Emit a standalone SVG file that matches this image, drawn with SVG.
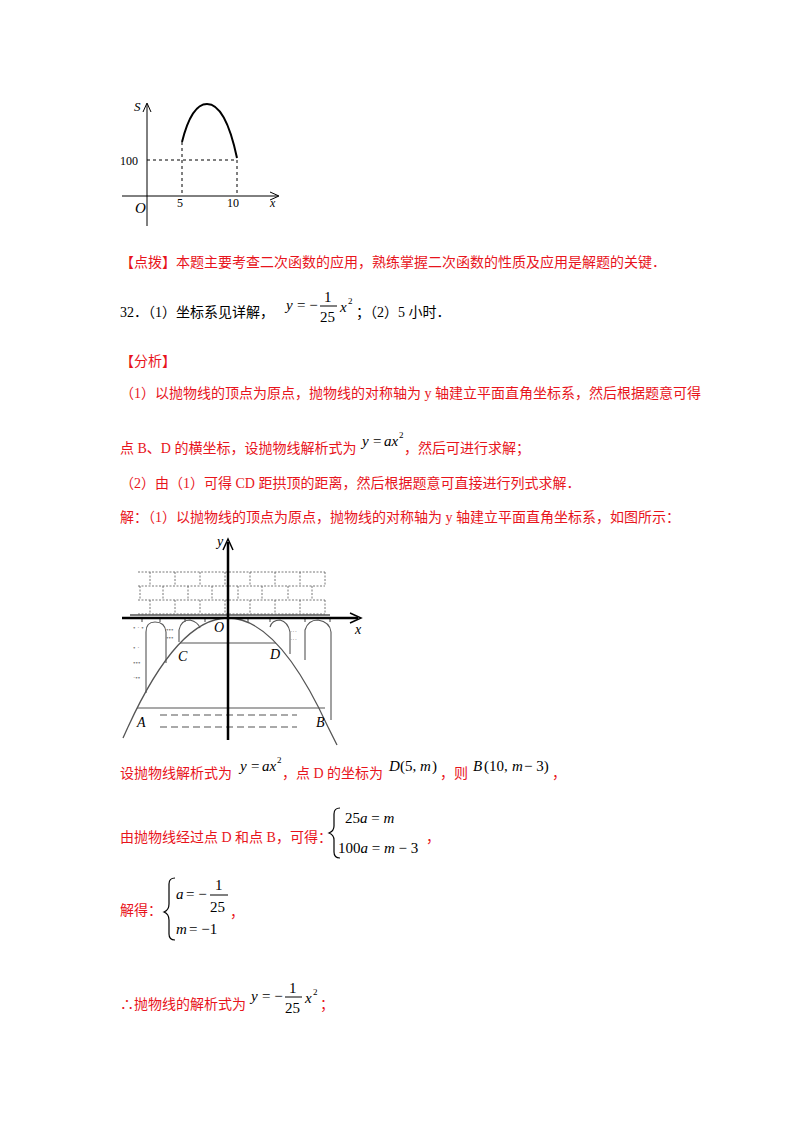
<svg xmlns="http://www.w3.org/2000/svg" width="800" height="1132" viewBox="0 0 800 1132">
<style>
.t{font-family:"Liberation Serif","Noto Sans CJK SC",serif;font-size:14px;fill:#000}
.r{fill:#e8141c}
.m{font-family:"Liberation Serif",serif;font-style:italic;font-size:15px}
.s{font-family:"Liberation Serif",serif;font-size:12px}
.f{font-family:"Liberation Serif",serif;font-size:15px}
.sup{font-family:"Liberation Serif",serif;font-size:9px}
.ax{stroke:#000;fill:none}
.d{stroke:#000;stroke-dasharray:3 3;fill:none}
.br{stroke:#555;stroke-dasharray:2 1.5;fill:none;stroke-width:0.8}
</style>
<rect width="800" height="1132" fill="#fff"/>
<g id="graph1">
<line class="ax" x1="147" y1="226" x2="147" y2="104"/>
<path d="M143,112 L147,103 L151,112" class="ax"/>
<line class="ax" x1="122" y1="196" x2="278" y2="196"/>
<path d="M270,192 L279,196 L270,200" class="ax"/>
<path class="d" d="M147,160 H237 M182,142 V196 M237,160 V196"/>
<path d="M182,142 C190,110 200,104 207,104 C220,104 230,125 237,158" stroke="#000" stroke-width="2" fill="none"/>
<text class="m" x="134" y="111" style="font-size:13px">S</text>
<text class="s" x="120" y="165">100</text>
<text class="m" x="135" y="213">O</text>
<text class="s" x="177" y="207">5</text>
<text class="s" x="227" y="207">10</text>
<text class="m" x="270" y="207" style="font-size:12px">x</text>
</g>
<g id="text">
<text class="t r" x="120" y="267">【点拨】本题主要考查二次函数的应用，熟练掌握二次函数的性质及应用是解题的关键．</text>
<text class="t" x="120" y="317">32．（1）坐标系见详解，</text>
<text class="m" x="286" y="310">y</text><text class="f" x="297" y="310">= −</text>
<text class="f" x="324" y="302">1</text><line x1="320" y1="306" x2="337" y2="306" stroke="#000"/>
<text class="f" x="320" y="322">25</text><text class="m" x="340" y="312">x</text><text class="sup" x="348" y="304">2</text>
<text class="t" x="356" y="317">；（2）5 小时．</text>
<text class="t r" x="120" y="366">【分析】</text>
<text class="t r" x="120" y="398">（1）以抛物线的顶点为原点，抛物线的对称轴为 y 轴建立平面直角坐标系，然后根据题意可得</text>
<text class="t r" x="120" y="453">点 B、D 的横坐标，设抛物线解析式为</text>
<text class="m" x="362" y="446">y</text><text class="f" x="373" y="446">=</text><text class="m" x="384" y="446">ax</text><text class="sup" x="399" y="438">2</text>
<text class="t r" x="404" y="453">，然后可进行求解；</text>
<text class="t r" x="120" y="488">（2）由（1）可得 CD 距拱顶的距离，然后根据题意可直接进行列式求解．</text>
<text class="t r" x="120" y="522">解：（1）以抛物线的顶点为原点，抛物线的对称轴为 y 轴建立平面直角坐标系，如图所示：</text>
<text class="t r" x="120" y="778">设抛物线解析式为</text>
<text class="m" x="240" y="771">y</text><text class="f" x="251" y="771">=</text><text class="m" x="262" y="771">ax</text><text class="sup" x="277" y="763">2</text>
<text class="t r" x="282" y="778">，点 D 的坐标为</text>
<text class="m" x="389" y="771">D</text><text class="f" x="400" y="771">(5,</text><text class="m" x="420" y="771">m</text><text class="f" x="432" y="771">)</text>
<text class="t r" x="440" y="778">，则</text>
<text class="m" x="473" y="771">B</text><text class="f" x="484" y="771">(10,</text><text class="m" x="512" y="771">m</text><text class="f" x="524" y="771">− 3)</text>
<text class="t r" x="552" y="778">，</text>
<text class="t r" x="120" y="842">由抛物线经过点 D 和点 B，可得：</text>
<path d="M340,808 Q334,808 334,814 V826 Q334,831 329,833 Q334,835 334,840 V852 Q334,858 340,858" stroke="#000" fill="none" stroke-width="1.2"/>
<text class="f" x="345" y="823">25<tspan class="m">a</tspan> = <tspan class="m">m</tspan></text>
<text class="f" x="338" y="853">100<tspan class="m">a</tspan> = <tspan class="m">m</tspan> − 3</text>
<text class="t r" x="426" y="842">，</text>
<text class="t r" x="120" y="915">解得：</text>
<path d="M175,878 Q169,878 169,884 V904 Q169,910 164,912 Q169,914 169,920 V934 Q169,940 175,940" stroke="#000" fill="none" stroke-width="1.2"/>
<text class="m" x="176" y="899">a</text><text class="f" x="186" y="899">= −</text>
<text class="f" x="215" y="890">1</text><line x1="210" y1="895" x2="228" y2="895" stroke="#000"/>
<text class="f" x="210" y="912">25</text><text class="t r" x="230" y="917">，</text>
<text class="m" x="176" y="934">m</text><text class="f" x="189" y="934">= −1</text>
<text class="t r" x="120" y="1009">∴抛物线的解析式为</text>
<text class="m" x="251" y="1001">y</text><text class="f" x="262" y="1001">= −</text>
<text class="f" x="289" y="993">1</text><line x1="285" y1="997" x2="302" y2="997" stroke="#000"/>
<text class="f" x="285" y="1013">25</text><text class="m" x="305" y="1003">x</text><text class="sup" x="313" y="995">2</text>
<text class="t r" x="320" y="1009">；</text>
</g>
<g id="bridge">
<g class="br">
<path d="M138,572 H325 M138,586 H325 M138,600 H325 M138,614 H325"/>
<path d="M150,572 V586 M175,572 V586 M200,572 V586 M225,572 V586 M250,572 V586 M275,572 V586 M300,572 V586 M325,572 V586"/>
<path d="M140,586 V600 M163,586 V600 M188,586 V600 M212,586 V600 M238,586 V600 M262,586 V600 M288,586 V600 M312,586 V600"/>
<path d="M150,600 V614 M175,600 V614 M200,600 V614 M225,600 V614 M250,600 V614 M275,600 V614 M300,600 V614 M325,600 V614"/>
</g>
<line x1="130" y1="615" x2="330" y2="615" stroke="#555" stroke-width="1.5"/>
<g stroke="#555" fill="none" stroke-width="1.1">
<path d="M146,693 V632 Q146,622 155,622 Q165,622 166,632 V663"/>
<path d="M179,642 V630 Q181,620 190,620 Q198,622 200,628"/>
<path d="M270,627 Q272,620 280,620 Q288,622 290,632 V654"/>
<path d="M305,660 V630 Q308,620 318,620 Q330,622 331,632 V720"/>
<path d="M142,618 V622 M160,618 V622 M185,618 V622 M205,618 V622 M248,618 V622 M270,618 V622 M305,618 V622 M330,618 V622"/>
</g>
<g fill="#777" font-family="Liberation Serif" style="font-size:7px">
<text x="133" y="630">• ·  •</text><text x="133" y="650">• ·</text><text x="133" y="665">•••</text><text x="133" y="680">·••</text>
<text x="166" y="632">•••</text><text x="166" y="640">•••</text><text x="290" y="634">···</text><text x="290" y="642">···</text>
</g>
<path d="M128,727 Q228,509 328,727" stroke="#555" stroke-width="1.3" fill="none"/>
<path d="M328,727 L337,745 M128,727 L123,738" stroke="#555" stroke-width="1.3"/>
<line x1="180" y1="643" x2="276" y2="643" stroke="#555" stroke-width="1.2"/>
<line x1="137" y1="708" x2="325" y2="708" stroke="#555" stroke-width="1.2"/>
<path d="M160,715 H297 M160,727 H297" stroke="#555" stroke-dasharray="7 4" stroke-width="1.2"/>
<line x1="122" y1="618" x2="358" y2="618" stroke="#000" stroke-width="2.5"/>
<path d="M350,613 L361,618 L350,623" stroke="#000" fill="none" stroke-width="1.5"/>
<line x1="228" y1="740" x2="228" y2="542" stroke="#000" stroke-width="2.5"/>
<path d="M223,550 L228,539 L233,550" stroke="#000" fill="none" stroke-width="1.5"/>
<g font-family="Liberation Serif" font-style="italic" style="font-size:14px">
<text x="217" y="546">y</text><text x="355" y="634">x</text><text x="214" y="632">O</text>
<text x="178" y="661">C</text><text x="270" y="659">D</text><text x="137" y="727">A</text><text x="316" y="727">B</text>
</g>
</g>
</svg>
